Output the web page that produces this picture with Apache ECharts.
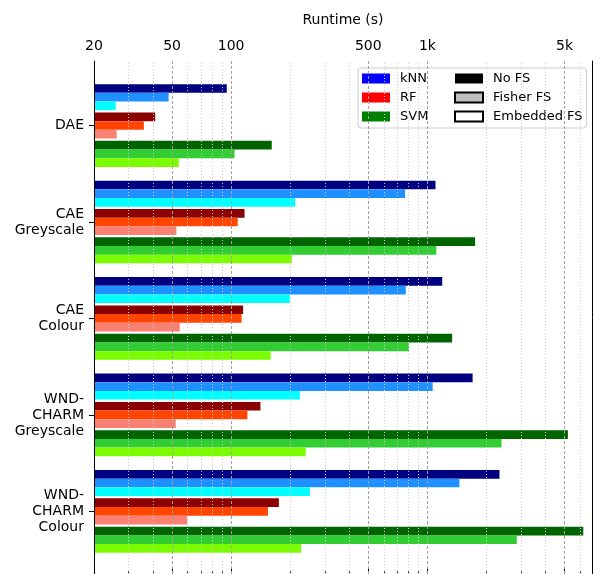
<!DOCTYPE html>
<html>
<head>
<meta charset="utf-8">
<script src="https://cdn.jsdelivr.net/npm/echarts@6/dist/echarts.min.js"></script>
<style>
html, body { margin: 0; padding: 0; background: #fff; }
#chart { width: 600px; height: 574px; }
</style>
</head>
<body>
<div id="chart"></div>
<script>
// categories (top to bottom)
var categories = ['DAE', 'CAE\nGreyscale', 'CAE\nColour', 'WND-\nCHARM\nGreyscale', 'WND-\nCHARM\nColour'];

// runtimes in seconds
var knnNoFS     = [95,   1100, 1190, 1700, 2330];
var knnFisher   = [48,   770,  776,  1064, 1456];
var knnEmbedded = [25.8, 212,  199,  224,  252];
var rfNoFS      = [41,   117,  115,  141,  175];
var rfFisher    = [35.9, 108,  113,  121,  154];
var rfEmbedded  = [26.1, 52.6, 54.7, 52.2, 59.7];
var svmNoFS     = [161,  1750, 1337, 5200, 6230];
var svmFisher   = [104,  1110, 806,  2386, 2856];
var svmEmbedded = [54.1, 204,  159,  240,  227];

// axis ticks
var majorTicks = [20, 50, 100, 500, 1000, 5000];
var minorTicks = [30, 40, 60, 70, 80, 90, 200, 300, 400, 600, 700, 800, 900, 2000, 3000, 4000, 6000];

var X_MIN = 20, X_MAX = 6900;
var FONT = 'DejaVu Sans';

var chart = echarts.init(document.getElementById('chart'));

function barSeries(name, values, color) {
    return {
        name: name, type: 'bar', xAxisIndex: 2, yAxisIndex: 2,
        data: values, barWidth: 8.67, barGap: '0%',
        itemStyle: { color: color }
    };
}
function spacer() {
    return { name: '_gap', type: 'bar', xAxisIndex: 2, yAxisIndex: 2, data: [], barWidth: 2.33, barGap: '0%' };
}
function legendDummy(name, color, border) {
    var s = { name: name, type: 'bar', xAxisIndex: 0, yAxisIndex: 0, data: [], itemStyle: { color: color } };
    if (border) { s.itemStyle.borderColor = '#000'; s.itemStyle.borderWidth = 1; }
    return s;
}

// gridlines drawn over the bars
var gridLines = [];
majorTicks.forEach(function (v) {
    if (v > X_MIN) gridLines.push({ xAxis: v, lineStyle: { color: '#a0a0a0', type: [3, 2], width: 1 } });
});
minorTicks.forEach(function (v) {
    gridLines.push({ xAxis: v, lineStyle: { color: '#cfcfcf', type: [1, 2], width: 1 } });
});

var legendText = { fontFamily: FONT, fontSize: 13, color: '#000', padding: [0, 0, 0, 5] };

var option = {
    animation: false,
    backgroundColor: '#fff',
    textStyle: { fontFamily: FONT },
    grid: [
        { left: 94, right: 8, top: 61, height: 516 },
        { left: 94, right: 8, top: 77.3, height: 482.3 }
    ],
    legend: [
        {
            data: ['kNN', 'RF', 'SVM'], orient: 'vertical', left: 358, top: 68,
            padding: [4, 158, 5, 4], itemWidth: 28, itemHeight: 10, itemGap: 6, icon: 'rect',
            selectedMode: false, backgroundColor: 'rgba(255,255,255,0.8)',
            borderColor: '#cccccc', borderWidth: 1, borderRadius: 3,
            textStyle: Object.assign({ width: 50 }, legendText)
        },
        {
            data: ['No FS', 'Fisher FS', 'Embedded FS'], orient: 'vertical', left: 454, top: 72,
            padding: 0, itemWidth: 28, itemHeight: 10, itemGap: 6, icon: 'rect',
            selectedMode: false, textStyle: legendText
        }
    ],
    xAxis: [
        {
            type: 'log', gridIndex: 0, position: 'top', min: X_MIN, max: X_MAX,
            name: 'Runtime (s)', nameLocation: 'middle', nameGap: 34,
            nameTextStyle: { fontFamily: FONT, fontSize: 14, color: '#000' },
            axisLine: { show: true, lineStyle: { color: '#000' } },
            axisTick: { show: true, length: 5, customValues: majorTicks, lineStyle: { color: '#000' } },
            axisLabel: {
                customValues: majorTicks, margin: 8, fontFamily: FONT, fontSize: 14, color: '#000',
                formatter: function (v) { return v >= 1000 ? (v / 1000) + 'k' : String(v); }
            },
            splitLine: { show: false }
        },
        {
            type: 'log', gridIndex: 0, position: 'top', min: X_MIN, max: X_MAX,
            axisLine: { show: false },
            axisTick: { show: true, length: 2.5, customValues: minorTicks, lineStyle: { color: '#000' } },
            axisLabel: { show: false },
            splitLine: { show: false }
        },
        { type: 'log', gridIndex: 1, min: X_MIN, max: X_MAX, show: false, splitLine: { show: false } }
    ],
    yAxis: [
        {
            type: 'value', gridIndex: 0, position: 'left', min: 0, max: 1, z: 10,
            axisLine: { show: true, lineStyle: { color: '#000' } },
            axisTick: { show: false }, axisLabel: { show: false }, splitLine: { show: false }
        },
        {
            type: 'value', gridIndex: 0, position: 'right', min: 0, max: 1, z: 10,
            axisLine: { show: true, lineStyle: { color: '#000' } },
            axisTick: { show: false }, axisLabel: { show: false }, splitLine: { show: false }
        },
        {
            type: 'category', gridIndex: 1, inverse: true, data: categories,
            axisLine: { show: false },
            axisTick: { show: true, alignWithLabel: true, length: 5, lineStyle: { color: '#000' } },
            axisLabel: { fontFamily: FONT, fontSize: 14, lineHeight: 16, color: '#000', margin: 10 },
            splitLine: { show: false }
        }
    ],
    series: [
        barSeries('kNN No FS', knnNoFS, '#000080'),
        barSeries('kNN Fisher FS', knnFisher, '#1e90ff'),
        barSeries('kNN Embedded FS', knnEmbedded, '#00ffff'),
        spacer(),
        barSeries('RF No FS', rfNoFS, '#8b0000'),
        barSeries('RF Fisher FS', rfFisher, '#ff4500'),
        barSeries('RF Embedded FS', rfEmbedded, '#fa8072'),
        spacer(),
        barSeries('SVM No FS', svmNoFS, '#006400'),
        barSeries('SVM Fisher FS', svmFisher, '#32cd32'),
        barSeries('SVM Embedded FS', svmEmbedded, '#7cfc00'),
        legendDummy('kNN', '#0000ff'),
        legendDummy('RF', '#ff0000'),
        legendDummy('SVM', '#008000'),
        legendDummy('No FS', '#000000'),
        legendDummy('Fisher FS', '#bfbfbf', true),
        legendDummy('Embedded FS', '#ffffff', true),
        {
            name: '_grid', type: 'line', xAxisIndex: 0, yAxisIndex: 0, data: [],
            markLine: {
                silent: true, animation: false, symbol: ['none', 'none'],
                label: { show: false }, data: gridLines
            }
        }
    ]
};

chart.setOption(option);
</script>
</body>
</html>
